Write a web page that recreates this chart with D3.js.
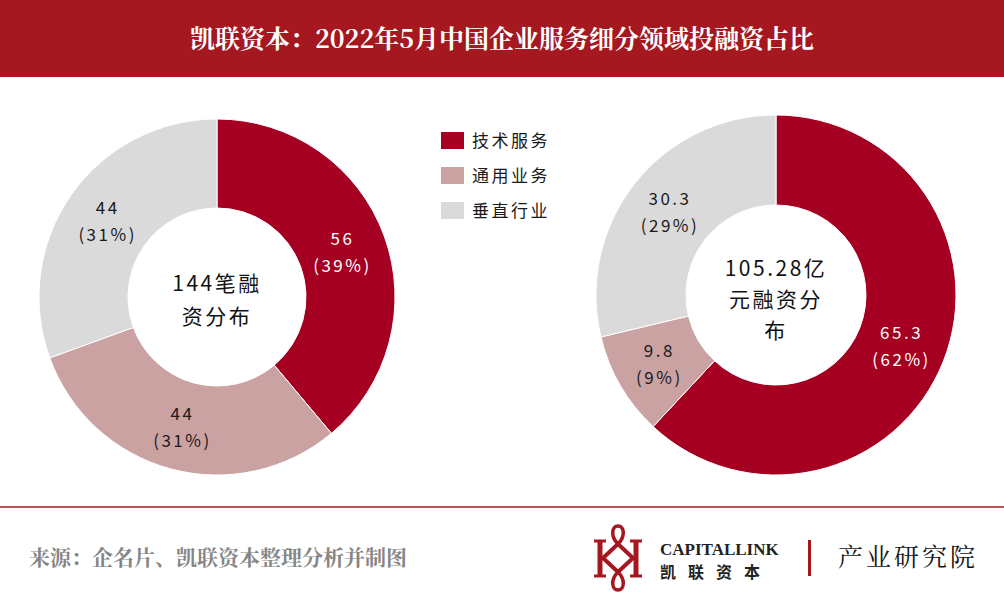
<!DOCTYPE html>
<html><head><meta charset="utf-8">
<script src="https://cdn.jsdelivr.net/npm/d3@7"></script>
<style>
body{margin:0;background:#fff;}
svg{display:block;}
</style></head>
<body><svg id="c" width="1004" height="609"></svg>
<script>
const categories = ["技术服务","通用业务","垂直行业"];
const dealCounts = [56,44,44];
const dealPct = ["39%","31%","31%"];
const amounts = [65.3,9.8,30.3];
const amountPct = ["62%","9%","29%"];
const colors = ["#A50021","#CBA2A2","#DADADA"];
const labelColors = ["#ffffff","#1a1a1a","#1a1a1a"];
const titleText = "凯联资本：2022年5月中国企业服务细分领域投融资占比";
const centerLeft = ["144笔融","资分布"];
const centerRight = ["105.28亿","元融资分","布"];
const sourceText = "来源：企名片、凯联资本整理分析并制图";

const svg = d3.select("#c");
const font = "'Noto Sans CJK SC','Microsoft YaHei',sans-serif";

// title band
svg.append("rect").attr("x",0).attr("y",0).attr("width",1004).attr("height",77).attr("fill","#A5181F");
svg.append("text").attr("x",502).attr("y",48).attr("text-anchor","middle")
  .attr("fill","#fff").attr("font-family","'Noto Serif CJK SC','Noto Sans CJK SC',serif")
  .attr("font-weight","bold").attr("font-size",25).text(titleText);

function donut(cx, cy, rOuter, rInner, values, pcts, centerLines, centerYStart, lineGap){
  const g = svg.append("g").attr("transform",`translate(${cx},${cy})`);
  const pie = d3.pie().sort(null).value(d=>d);
  const arcs = pie(values);
  const arc = d3.arc().innerRadius(rInner).outerRadius(rOuter);
  g.selectAll("path.s").data(arcs).enter().append("path")
    .attr("d",arc).attr("fill",(d,i)=>colors[i]).attr("stroke","#fff").attr("stroke-width",1);
  const lg = g.selectAll("g.l").data(arcs).enter().append("g")
    .attr("transform",d=>{const c=arc.centroid(d);return `translate(${c[0]},${c[1]})`;});
  lg.append("text").attr("y",-6).attr("text-anchor","middle")
    .attr("font-family",font).attr("font-size",17).attr("letter-spacing","2.5px")
    .attr("fill",(d,i)=>labelColors[i]).text((d,i)=>values[i]);
  lg.append("text").attr("y",21).attr("text-anchor","middle")
    .attr("font-family",font).attr("font-size",17).attr("letter-spacing","2.5px")
    .attr("fill",(d,i)=>labelColors[i]).text((d,i)=>"("+pcts[i]+")");
  centerLines.forEach((t,i)=>{
    g.append("text").attr("x",0).attr("y",centerYStart+i*lineGap).attr("text-anchor","middle")
      .attr("font-family",font).attr("font-size",21).attr("letter-spacing","2.5px")
      .attr("fill","#111").text(t);
  });
}
donut(217,297,178,89,dealCounts,dealPct,centerLeft,-6,33);
donut(776,295,180,90,amounts,amountPct,centerRight,-19,31);

// legend
const legend = svg.append("g");
categories.forEach((c,i)=>{
  const y = 132 + i*35;
  legend.append("rect").attr("x",441).attr("y",y).attr("width",23).attr("height",17).attr("fill",colors[i]);
  legend.append("text").attr("x",472).attr("y",y+15).attr("font-family",font).attr("font-size",17)
    .attr("letter-spacing","2.5px").attr("fill","#1a1a1a").text(c);
});

// footer
svg.append("line").attr("x1",0).attr("x2",1004).attr("y1",507).attr("y2",507).attr("stroke","#A5181F").attr("stroke-width",1.5);
svg.append("text").attr("x",29).attr("y",565).attr("font-family","'Noto Serif CJK SC','Noto Sans CJK SC',serif")
  .attr("font-weight","bold").attr("font-size",21).attr("fill","#858585").text(sourceText);

// logo icon
const logo = svg.append("g").attr("fill","none").attr("stroke","#A5181F").attr("stroke-width",5);
logo.append("line").attr("x1",600).attr("x2",600).attr("y1",540).attr("y2",577);
logo.append("line").attr("x1",636).attr("x2",636).attr("y1",540).attr("y2",577);
logo.append("path").attr("d","M594,541 H606 M594,576 H606 M630,541 H642 M630,576 H642").attr("stroke-width",3);
logo.append("path").attr("d","M603,558 L618,544 L633,558 L618,572 Z").attr("stroke-width",4);
logo.append("path").attr("d","M618,544 C610,536 612,526 618,526 C624,526 626,536 618,544").attr("stroke-width",3.5);
logo.append("path").attr("d","M618,572 C610,580 612,590 618,590 C624,590 626,580 618,572").attr("stroke-width",3.5);
svg.append("text").attr("x",660).attr("y",555).attr("font-family","'Liberation Serif',serif").attr("font-weight","bold")
  .attr("font-size",17).attr("fill","#222").text("CAPITALLINK");
svg.append("text").attr("x",660).attr("y",578).attr("font-family","'Noto Sans CJK SC',sans-serif").attr("font-weight","bold")
  .attr("font-size",16).attr("letter-spacing","12px").attr("fill","#222").text("凯联资本");
svg.append("rect").attr("x",808).attr("y",540).attr("width",3).attr("height",36).attr("fill","#A5181F");
svg.append("text").attr("x",838).attr("y",566).attr("font-family","'Noto Serif CJK SC','Noto Sans CJK SC',serif")
  .attr("font-size",25).attr("letter-spacing","3px").attr("fill","#111").text("产业研究院");
</script></body></html>
